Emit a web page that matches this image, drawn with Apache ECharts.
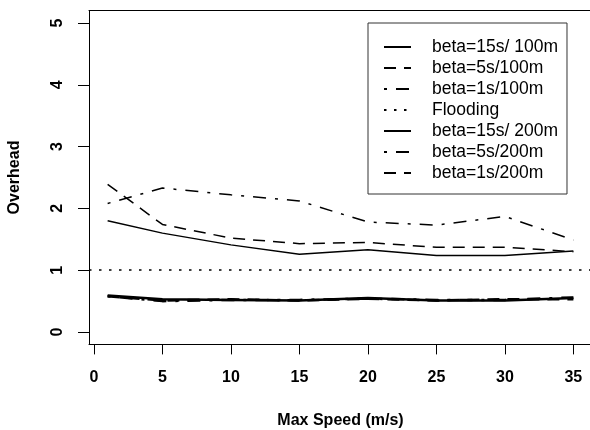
<!DOCTYPE html>
<html>
<head>
<meta charset="utf-8">
<script src="https://cdn.jsdelivr.net/npm/echarts@6.0.0/dist/echarts.min.js"></script>
<style>
  html, body { margin: 0; padding: 0; background: #fff; }
  #chart { width: 590px; height: 430px; }
</style>
</head>
<body>
<div id="chart"></div>
<script>
const speeds = [1, 5, 10, 15, 20, 25, 30, 35];
const beta15s100m = [1.80, 1.60, 1.41, 1.26, 1.33, 1.24, 1.24, 1.31];
const beta5s100m = [2.39, 1.74, 1.52, 1.43, 1.45, 1.37, 1.37, 1.30];
const beta1s100m = [2.08, 2.33, 2.22, 2.12, 1.78, 1.73, 1.87, 1.49];
const floodingLevel = [1];
const beta15s200m = [0.59, 0.53, 0.52, 0.51, 0.55, 0.51, 0.51, 0.55];
const beta5s200m = [0.58, 0.50, 0.52, 0.52, 0.54, 0.52, 0.52, 0.56];
const beta1s200m = [0.58, 0.51, 0.53, 0.51, 0.54, 0.51, 0.53, 0.53];
const xTicks = [0, 5, 10, 15, 20, 25, 30, 35];
const yTicks = [0, 1, 2, 3, 4, 5];

const FONT = "'Liberation Sans', Arial, sans-serif";
const DASHED = [12, 8];
const DOTDASH = [3, 9, 13, 9];
const DOTTED = [2.5, 7.5];
const X_MIN = -0.36;
const X_MAX = 36.36;

function lineSeries(name, values, type, width) {
  return {
    name: name,
    type: "line",
    symbol: "none",
    data: speeds.map((s, i) => [s, values[i]]),
    lineStyle: { color: "#000", width: width, type: type },
    itemStyle: { color: "#000" },
  };
}

const chart = echarts.init(document.getElementById("chart"), null, {
  renderer: "canvas",
});

const boldText = {
  fontFamily: FONT,
  fontSize: 16,
  fontWeight: "bold",
  color: "#000",
};

const option = {
  animation: false,
  backgroundColor: "#fff",
  grid: {
    left: 89,
    top: 10.6,
    right: -2,
    bottom: 85.6,
    show: false,
    containLabel: false,
    outerBoundsMode: "none",
  },
  legend: {
    orient: "vertical",
    left: 368,
    top: 23,
    padding: [15, 9, 12, 15],
    itemGap: 3,
    itemWidth: 27,
    itemHeight: 14,
    borderColor: "#333",
    borderWidth: 1,
    backgroundColor: "#fff",
    selectedMode: false,
    itemStyle: { opacity: 0 },
    textStyle: {
      fontFamily: FONT,
      fontSize: 17.5,
      color: "#000",
      padding: [0, 0, 0, 16],
    },
  },
  xAxis: [
    {
      type: "value",
      position: "bottom",
      min: X_MIN,
      max: X_MAX,
      name: "Max Speed (m/s)",
      nameLocation: "middle",
      nameGap: 68,
      nameTextStyle: boldText,
      axisLine: { show: true, onZero: false, lineStyle: { color: "#000" } },
      splitLine: { show: false },
      axisTick: {
        show: true,
        inside: false,
        length: 10,
        customValues: xTicks,
        lineStyle: { color: "#000" },
      },
      axisLabel: Object.assign({ customValues: xTicks, margin: 25 }, boldText),
    },
    {
      // top edge of the box only
      type: "value",
      position: "top",
      min: X_MIN,
      max: X_MAX,
      axisLine: { show: true, onZero: false, lineStyle: { color: "#000" } },
      splitLine: { show: false },
      axisTick: { show: false },
      axisLabel: { show: false },
    },
  ],
  yAxis: {
    type: "value",
    min: -0.2,
    max: 5.2,
    name: "Overhead",
    nameLocation: "middle",
    nameGap: 66,
    nameTextStyle: boldText,
    axisLine: { show: true, onZero: false, lineStyle: { color: "#000" } },
    splitLine: { show: false },
    axisTick: {
      show: true,
      inside: false,
      length: 11,
      customValues: yTicks,
      lineStyle: { color: "#000" },
    },
    axisLabel: Object.assign(
      { customValues: yTicks, rotate: 90, margin: 23 },
      boldText
    ),
  },
  series: [
    lineSeries("beta=15s/ 100m", beta15s100m, "solid", 1.5),
    lineSeries("beta=5s/100m", beta5s100m, DASHED, 1.5),
    lineSeries("beta=1s/100m", beta1s100m, DOTDASH, 1.5),
    {
      name: "Flooding",
      type: "line",
      symbol: "none",
      data: [],
      lineStyle: { color: "#000", width: 1.5, type: DOTTED },
      itemStyle: { color: "#000" },
      markLine: {
        silent: true,
        symbol: "none",
        label: { show: false },
        lineStyle: { color: "#000", width: 1.5, type: DOTTED },
        data: floodingLevel.map((v) => ({ yAxis: v })),
      },
    },
    lineSeries("beta=15s/ 200m", beta15s200m, "solid", 2.5),
    lineSeries("beta=5s/200m", beta5s200m, DOTDASH, 2.5),
    lineSeries("beta=1s/200m", beta1s200m, DASHED, 2.5),
  ],
};

chart.setOption(option);
</script>
</body>
</html>
